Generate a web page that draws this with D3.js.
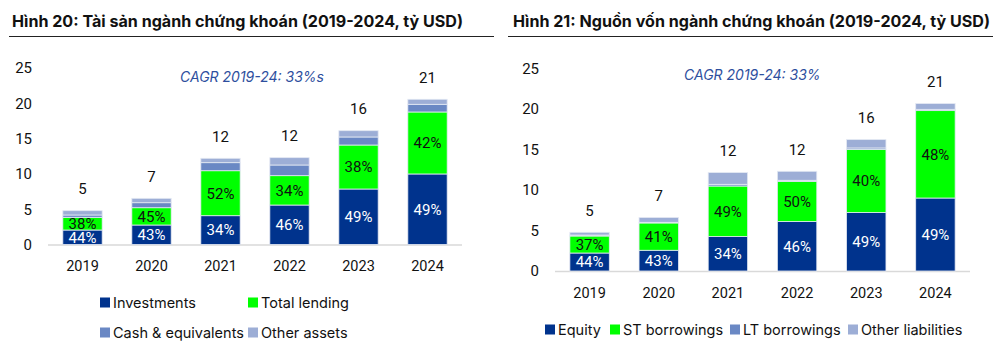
<!DOCTYPE html>
<html><head><meta charset="utf-8">
<script src="https://cdn.jsdelivr.net/npm/d3@7"></script>
<style>
body{margin:0;background:#fff;}
svg{display:block;}
text{font-family:Inter,"Noto Sans",sans-serif;fill:#111;}
.num{font-family:Roboto,sans-serif;}
</style></head>
<body>
<svg id="c" width="1002" height="359"></svg>
<script>
const years = ["2019","2020","2021","2022","2023","2024"];

// Chart 1: assets (bn USD)
const investments = [2.05, 2.76, 4.08, 5.59, 7.86, 9.99];
const totalLending = [1.80, 2.45, 6.37, 4.16, 6.23, 8.78];
const cashEquiv   = [0.33, 0.71, 1.14, 1.51, 1.14, 1.09];
const otherAssets = [0.61, 0.62, 0.62, 1.04, 0.89, 0.71];
const assetTotals = ["5","7","12","12","16","21"];
const invPct = ["44%","43%","34%","46%","49%","49%"];
const lendPct = ["38%","45%","52%","34%","38%","42%"];

// Chart 2: funding (bn USD)
const equity = [2.22, 2.56, 4.25, 6.10, 7.21, 9.01];
const stBorrow = [2.10, 3.37, 6.24, 4.97, 7.81, 10.79];
const ltBorrow = [0.12, 0.08, 0.21, 0.13, 0.17, 0.16];
const otherLiab = [0.34, 0.60, 1.45, 1.11, 1.03, 0.71];
const fundTotals = ["5","7","12","12","16","21"];
const eqPct = ["44%","43%","34%","46%","49%","49%"];
const stPct = ["37%","41%","49%","50%","40%","48%"];

const yTicks = [0,5,10,15,20,25];
const colors = ["#00338D","#00FF00","#6A88C4","#9DAED6"];

const svg = d3.select("#c");

function drawChart(o){
  const g = svg.append("g");
  // title
  g.append("text").attr("x",o.titleX).attr("y",27).attr("font-weight",700)
    .attr("font-size",o.titleSize).text(o.title);
  g.append("line").attr("x1",o.ruleX1).attr("x2",o.ruleX2).attr("y1",36.5).attr("y2",36.5)
    .attr("stroke","#222").attr("stroke-width",1);

  const x = d3.scaleBand().domain(years).range([o.x0,o.x1]).paddingInner(0.43).paddingOuter(0.215);
  const y = d3.scaleLinear().domain([0,25]).range([o.y0,o.yTop]);

  // y tick labels
  g.selectAll(".yt").data(yTicks).join("text").attr("class","num")
    .attr("x",o.yLabX).attr("y",d=>y(d)).attr("dy","0.36em").attr("text-anchor","end")
    .attr("font-size",15).text(d=>d);

  // axis line
  g.append("line").attr("x1",o.x0).attr("x2",o.x1).attr("y1",o.y0+0.5).attr("y2",o.y0+0.5)
    .attr("stroke","#d9d9d9").attr("stroke-width",1.5);

  const series = o.series;
  const rows = years.map((yr,i)=>{const r={year:yr}; series.forEach((s,k)=>r["s"+k]=s[i]); return r;});
  const stack = d3.stack().keys(series.map((s,k)=>"s"+k))(rows);
  stack.forEach((layer,k)=>{
    g.selectAll(".b"+k).data(layer).join("rect")
      .attr("x",d=>x(d.data.year)).attr("width",x.bandwidth())
      .attr("y",d=>y(d[1])).attr("height",d=>y(d[0])-y(d[1]))
      .attr("fill",colors[k]).attr("stroke","#e4e9f3").attr("stroke-width",0.8);
  });
  // percentage labels
  [[0,o.pct0,"#fff"],[1,o.pct1,"#111"]].forEach(([k,labels,col])=>{
    g.selectAll(".p"+k).data(stack[k]).join("text").attr("class","num")
      .attr("x",d=>x(d.data.year)+x.bandwidth()/2).attr("y",d=>(y(d[0])+y(d[1]))/2)
      .attr("dy","0.36em").attr("text-anchor","middle").attr("font-size",15)
      .style("fill",col).text((d,i)=>labels[i]);
  });
  // totals
  const top = stack[stack.length-1];
  g.selectAll(".tot").data(top).join("text").attr("class","num")
    .attr("x",d=>x(d.data.year)+x.bandwidth()/2).attr("y",d=>y(d[1])-22)
    .attr("dy","0.36em").attr("text-anchor","middle").attr("font-size",15)
    .text((d,i)=>o.totals[i]);
  // x labels
  g.selectAll(".xl").data(years).join("text").attr("class","num")
    .attr("x",d=>x(d)+x.bandwidth()/2).attr("y",o.xLabY).attr("dy","0.36em")
    .attr("text-anchor","middle").attr("font-size",14.5).text(d=>d);
  // CAGR
  g.append("text").attr("x",o.cagrX).attr("y",o.cagrY).attr("font-style","italic")
    .attr("font-size",14).style("fill","#2E4F9E").text(o.cagr);
  // legend
  o.legend.forEach((L,k)=>{
    g.append("rect").attr("x",L.x).attr("y",L.y-5).attr("width",10).attr("height",10).attr("fill",colors[k]);
    g.append("text").attr("x",L.x+13).attr("y",L.y).attr("dy","0.36em").attr("font-size",14.5).text(L.t);
  });
}

drawChart({
  title:"Hình 20: Tài sản ngành chứng khoán (2019-2024, tỷ USD)", titleX:12, titleSize:16.1,
  ruleX1:9, ruleX2:494,
  x0:48, x1:462, y0:244.5, yTop:68, yLabX:32, xLabY:266,
  series:[investments,totalLending,cashEquiv,otherAssets],
  pct0:invPct, pct1:lendPct, totals:assetTotals,
  cagr:"CAGR 2019-24: 33%s", cagrX:180, cagrY:82,
  legend:[{x:100,y:302.5,t:"Investments"},{x:248,y:302.5,t:"Total lending"},
          {x:100,y:332.5,t:"Cash & equivalents"},{x:248,y:332.5,t:"Other assets"}]
});
drawChart({
  title:"Hình 21: Nguồn vốn ngành chứng khoán (2019-2024, tỷ USD)", titleX:513, titleSize:16.1,
  ruleX1:508, ruleX2:993,
  x0:555, x1:970, y0:271, yTop:68.5, yLabX:539, xLabY:293,
  series:[equity,stBorrow,ltBorrow,otherLiab],
  pct0:eqPct, pct1:stPct, totals:fundTotals,
  cagr:"CAGR 2019-24: 33%", cagrX:684, cagrY:80,
  legend:[{x:545,y:329.5,t:"Equity"},{x:610,y:329.5,t:"ST borrowings"},
          {x:730,y:329.5,t:"LT borrowings"},{x:848,y:329.5,t:"Other liabilities"}]
});
</script>
</body></html>
